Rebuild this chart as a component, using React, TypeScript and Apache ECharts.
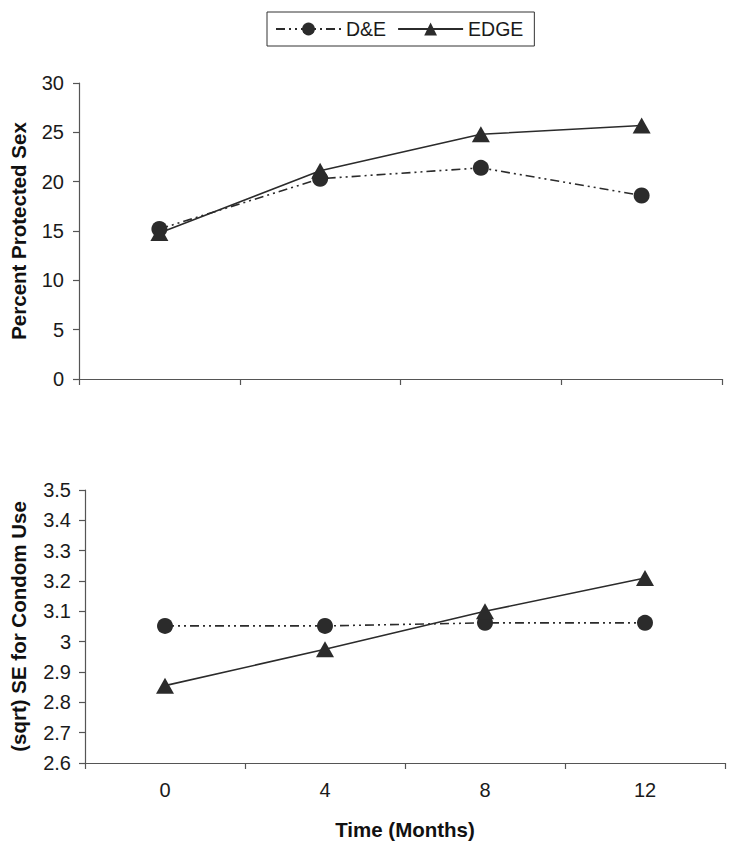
import React, { useEffect, useRef } from "react";
import * as echarts from "echarts";

const months = ["0", "4", "8", "12"];
const topDE = [15.2, 20.3, 21.4, 18.6];
const topEDGE = [14.8, 21.1, 24.8, 25.7];
const botDE = [3.052, 3.052, 3.062, 3.062];
const botEDGE = [2.855, 2.975, 3.1, 3.21];

const INK = "#2b2b2b";
const AXIS = "#555";
const FONT = "Liberation Sans, Arial, sans-serif";
const dashDot = [9, 4, 2, 4, 2, 4];

export default function App() {
  const ref = useRef<HTMLDivElement>(null);
  useEffect(() => {
    const chart = echarts.init(ref.current!, null, { renderer: "svg" });
    const axisLine = { show: true, lineStyle: { color: AXIS, width: 1.2 } };
    const axisTick = { show: true, length: 6, lineStyle: { color: AXIS, width: 1.2 } };
    const labelStyle = { color: "#1a1a1a", fontSize: 20, fontFamily: FONT };
    const nameStyle = { color: "#111", fontSize: 20.5, fontWeight: "bold" as const, fontFamily: FONT };
    const deSeries = (data: number[], idx: number) => ({
      name: "D&E",
      type: "line",
      xAxisIndex: idx,
      yAxisIndex: idx,
      data,
      symbol: "circle",
      symbolSize: 16,
      itemStyle: { color: INK },
      lineStyle: { color: INK, width: 1.6, type: dashDot },
    });
    const edgeSeries = (data: number[], idx: number) => ({
      name: "EDGE",
      type: "line",
      xAxisIndex: idx,
      yAxisIndex: idx,
      data,
      symbol: "triangle",
      symbolSize: [18, 16],
      itemStyle: { color: INK },
      lineStyle: { color: INK, width: 1.6, type: "solid" },
    });
    chart.setOption({
      animation: false,
      backgroundColor: "#fff",
      textStyle: { fontFamily: FONT },
      legend: {
        left: 267,
        top: 12,
        padding: [7, 11, 7, 8],
        borderColor: "#333",
        borderWidth: 1,
        itemWidth: 65,
        itemHeight: 16,
        itemGap: 11,
        textStyle: { fontSize: 19.5, color: "#1a1a1a", fontFamily: FONT },
        data: ["D&E", "EDGE"],
      },
      grid: [
        { left: 79, right: 12, top: 83, bottom: 468, containLabel: false },
        { left: 85, right: 9, top: 490, bottom: 84, containLabel: false },
      ],
      xAxis: [
        {
          type: "category",
          gridIndex: 0,
          data: months,
          boundaryGap: true,
          axisLine,
          axisTick: { ...axisTick, interval: 0 },
          axisLabel: { show: false },
          splitLine: { show: false },
        },
        {
          type: "category",
          gridIndex: 1,
          data: months,
          boundaryGap: true,
          axisLine,
          axisTick: { ...axisTick, interval: 0 },
          axisLabel: { ...labelStyle, margin: 17 },
          splitLine: { show: false },
          name: "Time (Months)",
          nameLocation: "middle",
          nameGap: 56,
          nameTextStyle: nameStyle,
        },
      ],
      yAxis: [
        {
          type: "value",
          gridIndex: 0,
          min: 0,
          max: 30,
          interval: 5,
          axisLine,
          axisTick,
          axisLabel: { ...labelStyle, margin: 15 },
          splitLine: { show: false },
          name: "Percent Protected Sex",
          nameLocation: "middle",
          nameRotate: 90,
          nameGap: 50,
          nameTextStyle: nameStyle,
        },
        {
          type: "value",
          gridIndex: 1,
          min: 2.6,
          max: 3.5,
          interval: 0.1,
          axisLine,
          axisTick,
          axisLabel: {
            ...labelStyle,
            margin: 14,
            formatter: (v: number) => String(Math.round(v * 10) / 10),
          },
          splitLine: { show: false },
          name: "(sqrt) SE for Condom Use",
          nameLocation: "middle",
          nameRotate: 90,
          nameGap: 56,
          nameTextStyle: nameStyle,
        },
      ],
      series: [deSeries(topDE, 0), edgeSeries(topEDGE, 0), deSeries(botDE, 1), edgeSeries(botEDGE, 1)],
    });
    return () => chart.dispose();
  }, []);
  return <div ref={ref} style={{ width: 734, height: 847, position: "absolute", left: 0, top: 0 }} />;
}
